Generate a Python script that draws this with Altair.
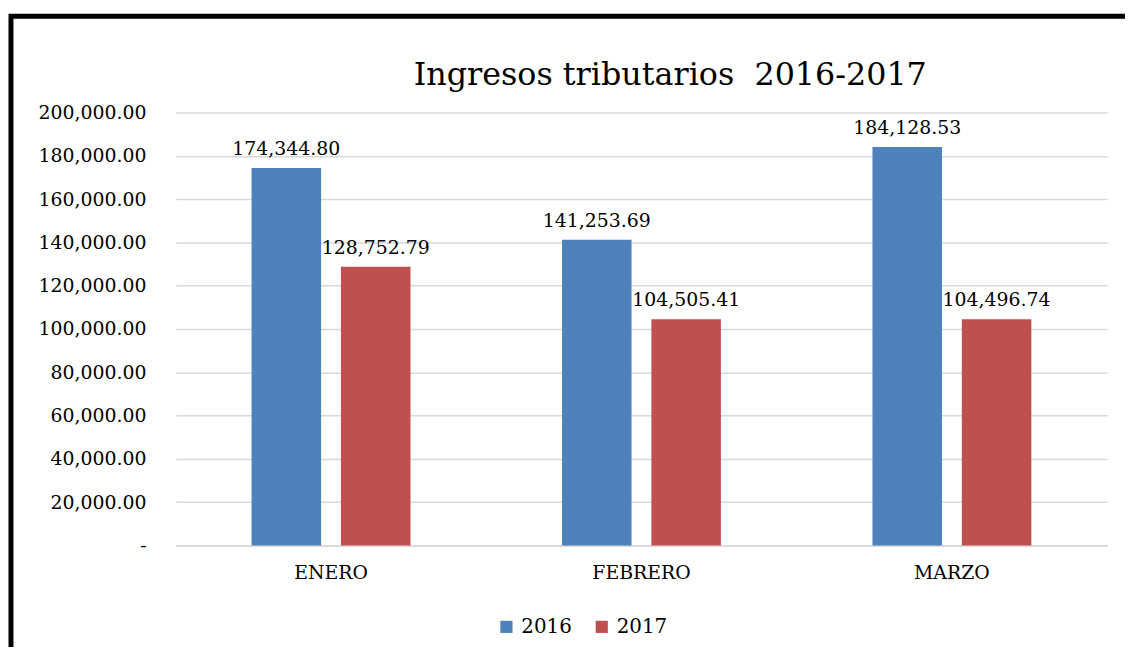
import altair as alt
import pandas as pd

title_text = "Ingresos tributarios \u00a02016-2017"
months = ["ENERO", "FEBRERO", "MARZO"]
years = ["2016", "2017"]
values_2016 = [174344.80, 141253.69, 184128.53]
values_2017 = [128752.79, 104505.41, 104496.74]
colors = ["#4F81BD", "#C0504D"]
y_ticks = [0, 20000, 40000, 60000, 80000, 100000, 120000, 140000, 160000, 180000, 200000]

rows = []
for m, v16, v17 in zip(months, values_2016, values_2017):
    rows.append({"mes": m, "anio": "2016", "valor": v16})
    rows.append({"mes": m, "anio": "2017", "valor": v17})
df = pd.DataFrame(rows)

FONT = "DejaVu Serif"
W, H = 938, 436

y_enc = alt.Y("valor:Q", title=None,
              scale=alt.Scale(domain=[0, 200000]),
              axis=alt.Axis(values=y_ticks, labelOverlap=False,
                            labelExpr="datum.value == 0 ? '-\u00a0\u00a0' : format(datum.value, ',.2f')",
                            labelFont=FONT, labelFontSize=19, labelColor="#000000",
                            labelPadding=30, ticks=False, domain=False,
                            gridColor="#d9d9d9", gridWidth=1.5))

base = alt.Chart(df).encode(
    x=alt.X("mes:N", sort=months, title=None,
            scale=alt.Scale(paddingInner=0, paddingOuter=0),
            axis=alt.Axis(labelAngle=0, labelFont=FONT, labelFontSize=19,
                          labelColor="#000000", labelPadding=18, ticks=False,
                          domainColor="#d9d9d9", domainWidth=1.5, grid=False)),
    xOffset=alt.XOffset("anio:N", sort=years,
                        scale=alt.Scale(paddingInner=0.222, paddingOuter=0.848)),
    y=y_enc,
)

bars = base.mark_bar().encode(
    color=alt.Color("anio:N", sort=years, title=None,
                    scale=alt.Scale(domain=years, range=colors),
                    legend=alt.Legend(orient="none", legendX=323, legendY=508,
                                      direction="horizontal", symbolType="square",
                                      symbolSize=150, symbolStrokeWidth=0,
                                      labelFont=FONT, labelFontSize=20,
                                      labelColor="#000000", columnPadding=20,
                                      labelOffset=5)),
)

labels = base.mark_text(font=FONT, fontSize=19, baseline="bottom", dy=-9,
                        color="#000000").encode(
    text=alt.Text("valor:Q", format=",.2f"),
)

border = alt.Chart(pd.DataFrame({"k": [0]})).mark_rect(
    fill="transparent", stroke="#000000", strokeWidth=5
).encode(
    x=alt.value(-166), x2=alt.value(W + 60),
    y=alt.value(-97), y2=alt.value(H + 200),
)

title = alt.Chart(pd.DataFrame({"t": [title_text]})).mark_text(
    font=FONT, fontSize=32, color="#000000", align="center", baseline="alphabetic"
).encode(
    x=alt.value(W / 2 + 29), y=alt.value(-28), text="t:N",
)

chart = alt.layer(border, title, bars, labels).properties(
    width=W, height=H,
    background="#ffffff",
    autosize=alt.AutoSizeParams(type="none"),
    padding={"left": 169, "top": 103, "right": 18, "bottom": 100},
).configure_view(stroke=None)

chart.save("out.html", embed_options={"renderer": "svg", "actions": False})
